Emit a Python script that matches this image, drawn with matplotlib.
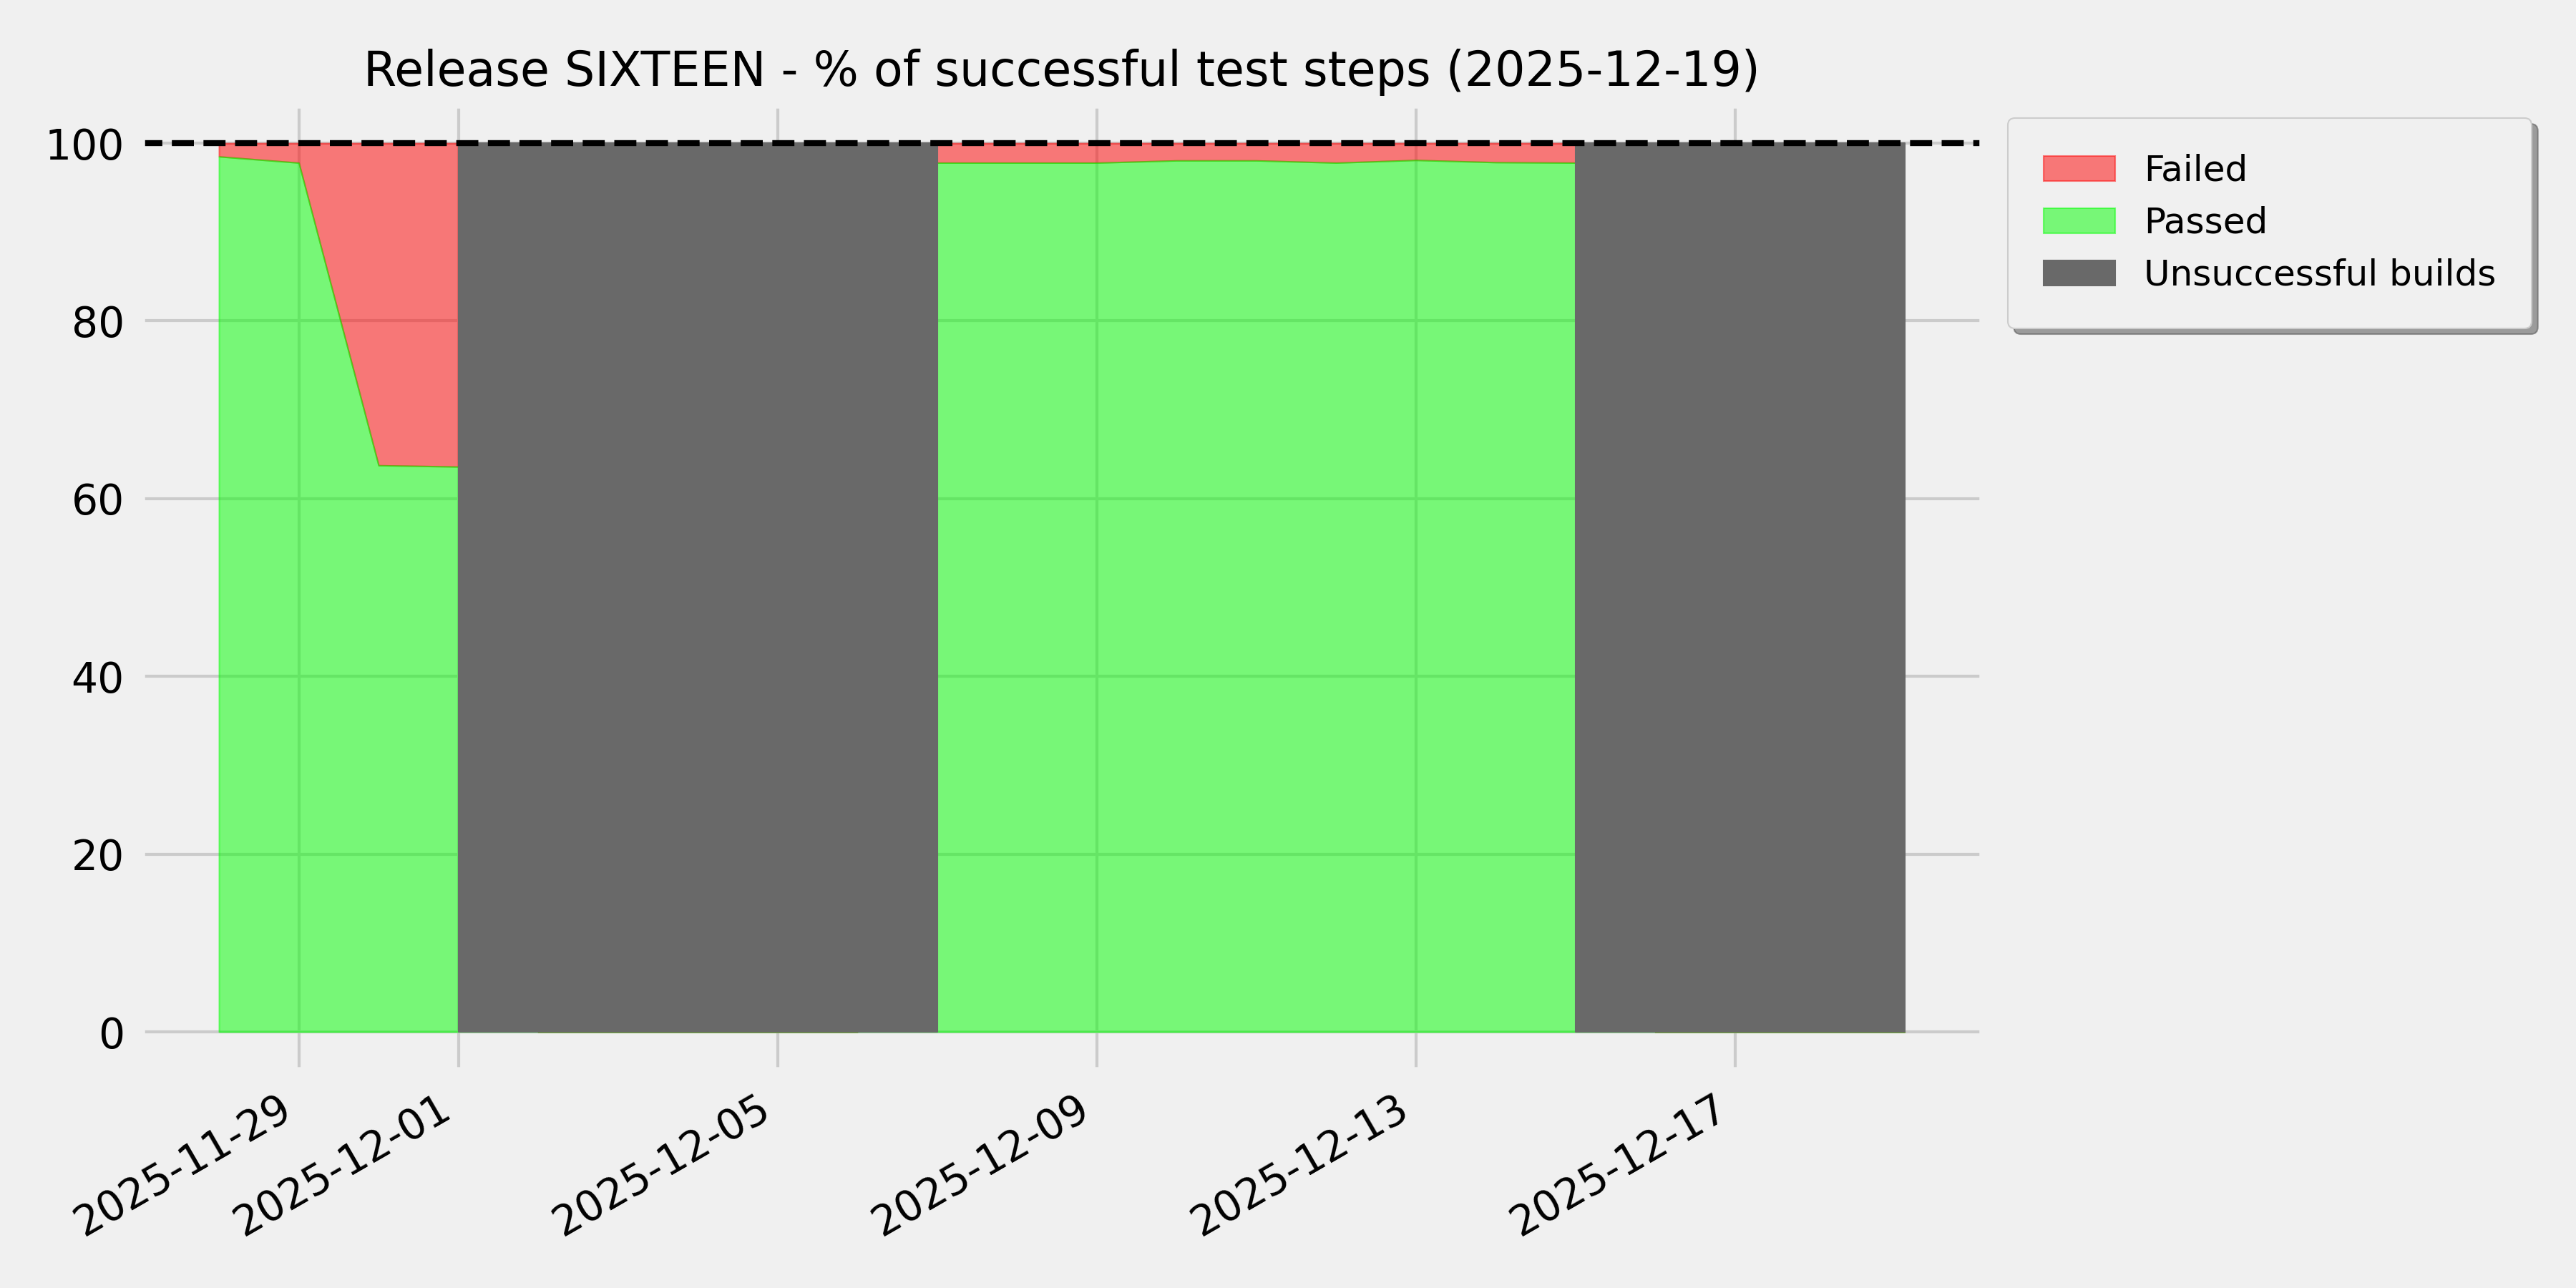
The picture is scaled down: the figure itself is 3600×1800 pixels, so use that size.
import numpy as np
import pandas as pd
import matplotlib
matplotlib.use("Agg")
import matplotlib.pyplot as plt
import matplotlib.dates as mdates

# ---- data ----
dates = [
    "2025-11-28 00:00", "2025-11-29 00:00", "2025-11-30 00:00", "2025-12-01 00:00",
    "2025-12-02 00:00", "2025-12-03 00:00", "2025-12-04 00:00", "2025-12-05 00:00",
    "2025-12-06 00:00", "2025-12-07 00:00", "2025-12-08 00:00", "2025-12-09 00:00",
    "2025-12-10 00:00", "2025-12-11 00:00", "2025-12-12 00:00", "2025-12-13 00:00",
    "2025-12-14 00:00", "2025-12-15 00:00", "2025-12-16 00:00", "2025-12-17 00:00",
    "2025-12-18 00:00", "2025-12-19 03:00",
]
passed = [98.5, 97.8, 63.75, 63.6, 0, 0, 0, 0, 0, 97.8,
          97.8, 97.8, 98.05, 98.05, 97.8, 98.1, 97.85, 97.8, 0, 0,
          0, 0]
failed = [1.5, 2.2, 36.25, 36.4, 0, 0, 0, 0, 0, 2.2,
          2.2, 2.2, 1.95, 1.95, 2.2, 1.9, 2.15, 2.2, 0, 0,
          0, 0]
unsuccessful = [False, False, False, True, True, True, True, True, True, True,
                False, False, False, False, False, False, False, True, True, True,
                True, True]
target = 100
title = "Release SIXTEEN - % of successful test steps (2025-12-19)"

# ---- plot ----
plt.style.use("fivethirtyeight")
plt.rcParams["font.family"] = ["DejaVu Sans"]

x = pd.to_datetime(dates, format="%Y-%m-%d %H:%M")
p = np.array(passed, dtype=float)
f = np.array(failed, dtype=float)
u = np.array(unsuccessful, dtype=bool)

fig, ax = plt.subplots(figsize=(12, 6), dpi=300)
fig.subplots_adjust(left=0.0544, right=0.770, bottom=0.1683, top=0.9194)

h_failed = ax.fill_between(x, p, p + f, color="red", alpha=0.5, label="Failed")
h_passed = ax.fill_between(x, 0, p, color="lime", alpha=0.5, label="Passed")
h_unsucc = ax.fill_between(x, 0, target, where=u, color="dimgray",
                           label="Unsuccessful builds")
ax.axhline(target, color="black", linestyle="--", linewidth=2)

x0 = mdates.date2num(pd.Timestamp("2025-11-28"))
ax.set_xlim(x0 - 0.988, x0 + 22.115)
ax.set_ylim(-4.43, 104.43)
ax.set_yticks([0, 20, 40, 60, 80, 100])

ax.xaxis.set_major_locator(mdates.AutoDateLocator())
ax.xaxis.set_major_formatter(mdates.DateFormatter("%Y-%m-%d"))
for lbl in ax.get_xticklabels():
    lbl.set_rotation(30)
    lbl.set_ha("right")
ax.tick_params(axis="y", pad=5.3)
ax.tick_params(axis="x", pad=5.3)

ax.set_title(title, fontsize=16)

ax.legend(handles=[h_failed, h_passed, h_unsucc], loc="upper left",
          bbox_to_anchor=(1.0035, 1.004), fontsize=12, shadow=True,
          borderpad=1.0, labelspacing=0.5)

fig.savefig("out.png", dpi=300)
